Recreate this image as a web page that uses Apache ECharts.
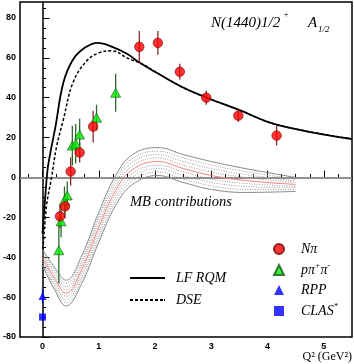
<!DOCTYPE html>
<html>
<head>
<meta charset="utf-8">
<script src="https://cdn.jsdelivr.net/npm/echarts@6/dist/echarts.min.js"></script>
<style>
  html, body { margin: 0; padding: 0; background: #fff; }
  #main { width: 354px; height: 364px; }
</style>
</head>
<body>
<div id="main"></div>
<script>
// N pi data
var nPiQ2 = [0.31, 0.40, 0.50, 0.66, 0.90, 1.72, 2.05, 2.44, 2.91, 3.48, 4.16];
var nPiA = [-19.5, -14.5, 3, 12.5, 25.5, 65.5, 67.5, 53, 40, 31, 21];
var nPiErr = [6, 6, 7, 5, 8, 8, 6, 4, 3.5, 3, 5];
// p pi+ pi- data
var ppQ2 = [0.29, 0.33, 0.39, 0.44, 0.53, 0.59, 0.66, 0.96, 1.30];
var ppA = [-36.5, -22, -11.5, -9, 16, 17, 21.5, 30, 42.5];
var ppErr = [16.5, 8, 7, 7, 10, 10, 8, 6.5, 9.5];
// photon point
var rppQ2 = [0];
var rppA = [-59.5];
var rppErr = [3.5];
var clasQ2 = [0];
var clasA = [-70];
var clasErr = [2];

// LF RQM curve
var lfQ2 = [0, 0.04, 0.09, 0.14, 0.23, 0.37, 0.54, 0.75, 0.98, 1.24, 1.5, 1.73, 2.0, 2.47, 2.92, 3.48, 4.16, 5.5];
var lfA = [-28, -13, 4, 12.5, 25.5, 47.5, 59, 65, 67.5, 65.5, 62, 57.5, 53, 45.5, 40, 34, 26.5, 19.3];
// DSE curve
var dseQ2 = [0.01, 0.07, 0.16, 0.25, 0.37, 0.54, 0.77, 1.0, 1.24, 1.5, 1.8, 2.0, 2.47, 2.92, 3.48, 4.16, 5.5];
var dseA = [-36, -14.5, 0, 15.5, 29, 47.5, 58, 62.5, 63.5, 60, 56.5, 53, 45.5, 40, 34, 26.5, 19.3];

// MB contributions band (edges, inner lines, centre)
var mbQ2 = [0, 0.2, 0.42, 0.7, 1.0, 1.3, 1.6, 2.05, 2.5, 3.0, 3.6, 4.5];
var mbUp4 = [-36, -44.5, -51.5, -39, -17.5, 1, 11.5, 15, 11.5, 8, 4.5, 0];
var mbUp3 = [-37, -46, -53, -41, -19.5, -0.9, 9.6, 13.2, 9.8, 6.2, 3, -0.9];
var mbUp2 = [-38, -47.2, -54.8, -42.5, -21.2, -2.8, 7.8, 11.5, 8, 4.5, 1.5, -1.8];
var mbUp1 = [-39, -48.6, -56.4, -44.2, -23.1, -4.6, 5.9, 9.8, 6.2, 2.8, 0, -2.6];
var mbMid = [-40, -50, -58, -46, -25, -6.5, 4, 8, 4.5, 1, -1.5, -3.5];
var mbDn1 = [-41, -51.4, -59.6, -47.8, -26.9, -8.4, 2.1, 6.2, 2.8, -0.8, -3, -4.4];
var mbDn2 = [-42, -52.8, -61.2, -49.5, -28.8, -10.2, 0.2, 4.5, 1, -2.5, -4.5, -5.2];
var mbDn3 = [-43, -54.1, -62.9, -51.2, -30.6, -12.1, -1.6, 2.8, -0.8, -4.2, -6, -6.1];
var mbDn4 = [-44, -55.5, -64.5, -53, -32.5, -14, -3.5, 1, -2.5, -6, -7.5, -7];

// axis ticks
var xMajor = [0, 1, 2, 3, 4, 5];
var xMinor = [-0.25, 0.25, 0.5, 0.75, 1.25, 1.5, 1.75, 2.25, 2.5, 2.75, 3.25, 3.5, 3.75, 4.25, 4.5, 4.75, 5.25];
var yMajor = [-80, -60, -40, -20, 0, 20, 40, 60, 80];
var yMinor = [-75, -70, -65, -55, -50, -45, -35, -30, -25, -15, -10, -5, 5, 10, 15, 25, 30, 35, 45, 50, 55, 65, 70, 75, 85];

function pairs(xs, ys) {
    var out = [];
    for (var i = 0; i < xs.length; i++) out.push([xs[i], ys[i]]);
    return out;
}
function bars(xs, ys, es) {
    var out = [];
    for (var i = 0; i < xs.length; i++) out.push([xs[i], ys[i] - es[i], ys[i] + es[i]]);
    return out;
}
function renderBar(params, api) {
    var p1 = api.coord([api.value(0), api.value(1)]);
    var p2 = api.coord([api.value(0), api.value(2)]);
    return {
        type: 'line',
        shape: {x1: p1[0], y1: p1[1], x2: p2[0], y2: p2[1]},
        style: {stroke: api.visual('color'), lineWidth: 1.3}
    };
}
function errSeries(xs, ys, es, color) {
    return {
        type: 'custom', renderItem: renderBar, silent: true, z: 4,
        itemStyle: {color: color},
        encode: {x: 0, y: [1, 2]},
        data: bars(xs, ys, es)
    };
}
function bandLine(ys, color, type) {
    return {
        type: 'line', data: pairs(mbQ2, ys), smooth: 0.4, symbol: 'none', silent: true, z: 2,
        lineStyle: {color: color, width: 1, type: type}
    };
}

var serif = 'Liberation Serif';
var axisFont = {fontFamily: 'Liberation Sans', fontSize: 9, fontWeight: 'bold', color: '#000'};
// legend line samples
var solidIcon = 'path://M0,0H35V2H0Z';
var dashIcon = 'path://M0,0H3V2H0Z M5,0H8V2H5Z M10,0H13V2H10Z M15,0H18V2H15Z M20,0H23V2H20Z M25,0H28V2H25Z M30,0H33V2H30Z M34,0H35V2H34Z';

var myChart = echarts.init(document.getElementById('main'));
var option = {
    animation: false,
    grid: {left: 16, top: 2, right: 2, bottom: 27, show: true, borderColor: '#000', borderWidth: 1.5},
    xAxis: [{
        type: 'value', min: -0.4, max: 5.5, position: 'bottom',
        axisLine: {show: true, lineStyle: {color: '#000', width: 1.5}},
        axisTick: {show: true, inside: true, length: 7, customValues: xMajor, lineStyle: {color: '#000'}},
        axisLabel: {customValues: xMajor, margin: 5, ...axisFont},
        splitLine: {show: false}
    }, {
        type: 'value', min: -0.4, max: 5.5, position: 'bottom',
        axisLine: {show: false},
        axisTick: {show: true, inside: true, length: 3.5, customValues: xMinor, lineStyle: {color: '#000'}},
        axisLabel: {show: false},
        splitLine: {show: false}
    }],
    yAxis: [{
        type: 'value', min: -80, max: 88, position: 'left',
        axisLine: {show: true, lineStyle: {color: '#000', width: 1.5}},
        axisTick: {show: true, inside: true, length: 7, customValues: yMajor, lineStyle: {color: '#000'}},
        axisLabel: {customValues: yMajor, margin: 4, ...axisFont},
        splitLine: {show: false}
    }, {
        type: 'value', min: -80, max: 88, position: 'left',
        axisLine: {show: false},
        axisTick: {show: true, inside: true, length: 3.5, customValues: yMinor, lineStyle: {color: '#000'}},
        axisLabel: {show: false},
        splitLine: {show: false}
    }],
    legend: [{
        left: 125, top: 266, orient: 'vertical', itemWidth: 35, itemHeight: 2, itemGap: 8,
        data: [{name: 'LF RQM', icon: solidIcon}, {name: 'DSE', icon: dashIcon}],
        textStyle: {fontFamily: serif, fontStyle: 'italic', fontSize: 14, lineHeight: 14, color: '#000', padding: [0, 0, 0, 6]}
    }, {
        left: 268, top: 237, orient: 'vertical', itemWidth: 10, itemHeight: 10, itemGap: 6,
        data: ['Npi', 'ppipi', 'RPP', 'CLAS'],
        formatter: function (name) {
            if (name == 'Npi') return '{i|Nπ}';
            if (name == 'ppipi') return '{i|pπ}{s|+}{i|π}{s|-}';
            if (name == 'CLAS') return '{i|CLAS}{s|*}';
            return '{i|' + name + '}';
        },
        textStyle: {
            padding: [0, 0, 0, 12],
            rich: {
                i: {fontFamily: serif, fontStyle: 'italic', fontSize: 14, color: '#000', lineHeight: 16},
                s: {fontFamily: serif, fontStyle: 'italic', fontSize: 8, color: '#000', lineHeight: 16, verticalAlign: 'top'}
            }
        }
    }],
    graphic: [
        {type: 'text', left: 211, top: 16, style: {text: 'N(1440)1/2', font: 'italic 15px "Liberation Serif"', fill: '#000'}},
        {type: 'text', left: 283, top: 10, style: {text: '+', font: 'italic 9px "Liberation Serif"', fill: '#000'}},
        {type: 'text', left: 308, top: 16, style: {text: 'A', font: 'italic 15px "Liberation Serif"', fill: '#000'}},
        {type: 'text', left: 318, top: 25, style: {text: '1/2', font: 'italic 9px "Liberation Serif"', fill: '#000'}},
        {type: 'text', left: 130, top: 195, style: {text: 'MB contributions', font: 'italic 14.5px "Liberation Serif"', fill: '#000'}},
        {type: 'text', right: 2, top: 351, style: {text: 'Q² (GeV²)', font: '12px "Liberation Serif"', fill: '#000'}}
    ],
    series: [
        bandLine(mbUp4, '#888', 'solid'),
        bandLine(mbUp3, '#999', [1, 1.5]),
        bandLine(mbUp2, '#999', [1, 1.5]),
        bandLine(mbUp1, '#999', [1, 1.5]),
        bandLine(mbMid, '#f08080', 'solid'),
        bandLine(mbDn1, '#999', [1, 1.5]),
        bandLine(mbDn2, '#999', [1, 1.5]),
        bandLine(mbDn3, '#999', [1, 1.5]),
        bandLine(mbDn4, '#888', 'solid'),
        {
            name: 'DSE', type: 'line', data: pairs(dseQ2, dseA), smooth: 0.4, symbol: 'none', z: 3,
            itemStyle: {color: '#000'},
            lineStyle: {color: '#000', width: 1.5, type: [3, 2]}
        },
        {
            name: 'LF RQM', type: 'line', data: pairs(lfQ2, lfA), smooth: 0.4, symbol: 'none', z: 3,
            itemStyle: {color: '#000'},
            lineStyle: {color: '#000', width: 1.8},
            markLine: {
                silent: true, symbol: 'none', label: {show: false}, z: 1,
                lineStyle: {color: '#aaa', width: 1.5, type: 'solid'},
                data: [{yAxis: 0}]
            }
        },
        errSeries(nPiQ2, nPiA, nPiErr, '#8b2a2a'),
        errSeries(ppQ2, ppA, ppErr, '#2d6a2d'),
        errSeries(rppQ2, rppA, rppErr, '#0000ff'),
        errSeries(clasQ2, clasA, clasErr, '#0000ff'),
        {
            name: 'ppipi', type: 'scatter', data: pairs(ppQ2, ppA), symbol: 'triangle', symbolSize: [10, 9], z: 5,
            itemStyle: {color: '#00ee00', borderColor: '#1a5a1a', borderWidth: 0.8}
        },
        {
            name: 'Npi', type: 'scatter', data: pairs(nPiQ2, nPiA), symbol: 'circle', symbolSize: 9.5, z: 6,
            itemStyle: {color: '#ff0000', borderColor: '#700', borderWidth: 0.8}
        },
        {
            name: 'RPP', type: 'scatter', data: pairs(rppQ2, rppA), symbol: 'triangle', symbolSize: [8, 8], z: 5,
            itemStyle: {color: '#0000ff'}
        },
        {
            name: 'CLAS', type: 'scatter', data: pairs(clasQ2, clasA), symbol: 'rect', symbolSize: 7, z: 5,
            itemStyle: {color: '#0000ff'}
        }
    ]
};
myChart.setOption(option);
</script>
</body>
</html>
